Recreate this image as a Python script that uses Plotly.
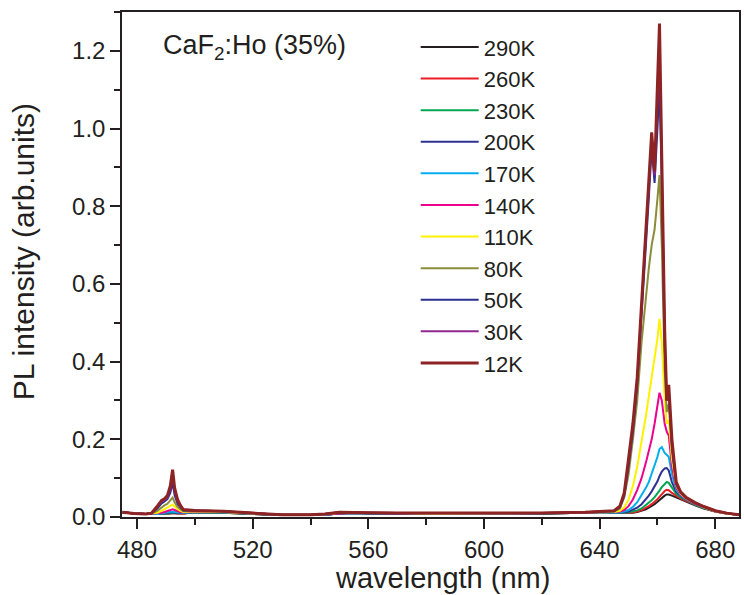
import plotly.graph_objects as go

# wavelength grid (nm)
wavelength = [475, 479, 483, 485, 487, 488.5, 489.5, 490.5, 491.5, 492.3, 493, 494, 495, 496,
              500, 510, 520, 530, 540, 545, 550, 555, 560, 570, 580, 600, 620, 635, 642,
              645, 647, 648.5, 650, 651.5, 653, 654.5, 656, 657, 658, 659, 660, 660.7, 661.5,
              662.5, 663.2, 663.9, 665, 666.5, 668, 670, 673, 676, 680, 684, 689]

temps = ["290K", "260K", "230K", "200K", "170K", "140K", "110K", "80K", "50K", "30K", "12K"]

pl_290K = [0.012, 0.009, 0.008, 0.009, 0.008, 0.008, 0.008, 0.009, 0.009, 0.010, 0.009, 0.009, 0.009, 0.009,
           0.012, 0.011, 0.008, 0.005, 0.005, 0.006, 0.009, 0.010, 0.009, 0.009, 0.008, 0.008, 0.009, 0.011, 0.013,
           0.010, 0.010, 0.010, 0.010, 0.011, 0.013, 0.016, 0.020, 0.024, 0.028, 0.033, 0.039, 0.044, 0.050,
           0.055, 0.058, 0.058, 0.055, 0.050, 0.045, 0.039, 0.030, 0.022, 0.014, 0.009, 0.005]
pl_260K = [0.012, 0.009, 0.008, 0.009, 0.008, 0.008, 0.008, 0.009, 0.010, 0.010, 0.010, 0.009, 0.009, 0.009,
           0.012, 0.011, 0.008, 0.005, 0.005, 0.006, 0.009, 0.010, 0.009, 0.009, 0.008, 0.008, 0.009, 0.011, 0.013,
           0.010, 0.010, 0.010, 0.011, 0.012, 0.014, 0.018, 0.023, 0.028, 0.033, 0.039, 0.046, 0.052, 0.060,
           0.067, 0.070, 0.069, 0.062, 0.054, 0.048, 0.041, 0.031, 0.023, 0.014, 0.009, 0.005]
pl_230K = [0.012, 0.009, 0.008, 0.009, 0.008, 0.008, 0.009, 0.009, 0.010, 0.011, 0.010, 0.010, 0.010, 0.010,
           0.012, 0.011, 0.008, 0.005, 0.005, 0.006, 0.009, 0.010, 0.009, 0.009, 0.008, 0.008, 0.009, 0.011, 0.013,
           0.010, 0.010, 0.011, 0.012, 0.014, 0.017, 0.022, 0.030, 0.036, 0.043, 0.051, 0.060, 0.068, 0.077,
           0.086, 0.090, 0.088, 0.075, 0.060, 0.051, 0.043, 0.032, 0.023, 0.015, 0.009, 0.005]
pl_200K = [0.012, 0.009, 0.008, 0.009, 0.008, 0.009, 0.009, 0.010, 0.012, 0.012, 0.011, 0.011, 0.010, 0.010,
           0.013, 0.012, 0.008, 0.005, 0.005, 0.006, 0.009, 0.010, 0.009, 0.009, 0.009, 0.008, 0.009, 0.011, 0.013,
           0.011, 0.011, 0.012, 0.014, 0.018, 0.024, 0.033, 0.045, 0.055, 0.066, 0.078, 0.092, 0.105, 0.117,
           0.125, 0.126, 0.120, 0.090, 0.065, 0.054, 0.044, 0.033, 0.024, 0.015, 0.009, 0.005]
pl_170K = [0.012, 0.009, 0.008, 0.009, 0.008, 0.009, 0.010, 0.012, 0.014, 0.014, 0.013, 0.012, 0.011, 0.011,
           0.013, 0.012, 0.009, 0.005, 0.005, 0.006, 0.010, 0.010, 0.010, 0.009, 0.009, 0.008, 0.009, 0.011, 0.013,
           0.011, 0.012, 0.014, 0.018, 0.026, 0.038, 0.055, 0.075, 0.090, 0.110, 0.130, 0.155, 0.175, 0.180,
           0.165, 0.160, 0.155, 0.110, 0.070, 0.056, 0.045, 0.033, 0.024, 0.015, 0.009, 0.005]
pl_140K = [0.012, 0.009, 0.008, 0.009, 0.009, 0.011, 0.013, 0.016, 0.019, 0.020, 0.018, 0.015, 0.013, 0.012,
           0.014, 0.013, 0.009, 0.006, 0.005, 0.007, 0.010, 0.011, 0.010, 0.009, 0.009, 0.009, 0.010, 0.011, 0.014,
           0.012, 0.014, 0.018, 0.028, 0.045, 0.070, 0.100, 0.140, 0.170, 0.200, 0.240, 0.290, 0.320, 0.300,
           0.240, 0.220, 0.210, 0.130, 0.075, 0.058, 0.046, 0.034, 0.025, 0.015, 0.009, 0.005]
pl_110K = [0.012, 0.009, 0.008, 0.009, 0.011, 0.016, 0.020, 0.024, 0.029, 0.032, 0.027, 0.020, 0.016, 0.013,
           0.015, 0.013, 0.009, 0.006, 0.006, 0.007, 0.011, 0.011, 0.010, 0.010, 0.009, 0.009, 0.010, 0.012, 0.014,
           0.013, 0.016, 0.025, 0.045, 0.080, 0.130, 0.190, 0.260, 0.310, 0.360, 0.410, 0.460, 0.510, 0.450,
           0.300, 0.240, 0.250, 0.150, 0.080, 0.060, 0.047, 0.035, 0.025, 0.015, 0.009, 0.005]
pl_80K = [0.012, 0.009, 0.008, 0.009, 0.016, 0.025, 0.030, 0.034, 0.042, 0.050, 0.038, 0.026, 0.020, 0.015,
          0.016, 0.014, 0.010, 0.006, 0.006, 0.008, 0.012, 0.012, 0.011, 0.010, 0.010, 0.009, 0.010, 0.012, 0.015,
          0.014, 0.022, 0.050, 0.110, 0.200, 0.300, 0.450, 0.570, 0.640, 0.700, 0.740, 0.820, 0.880, 0.700,
          0.380, 0.270, 0.290, 0.170, 0.080, 0.062, 0.048, 0.035, 0.026, 0.016, 0.010, 0.005]
pl_50K = [0.012, 0.009, 0.008, 0.009, 0.022, 0.035, 0.040, 0.046, 0.062, 0.088, 0.056, 0.035, 0.025, 0.017,
          0.017, 0.015, 0.010, 0.006, 0.006, 0.008, 0.012, 0.012, 0.011, 0.010, 0.010, 0.009, 0.010, 0.012, 0.015,
          0.015, 0.025, 0.055, 0.130, 0.220, 0.340, 0.510, 0.700, 0.820, 0.950, 0.860, 1.000, 1.110, 0.860,
          0.440, 0.300, 0.320, 0.180, 0.085, 0.063, 0.049, 0.036, 0.026, 0.016, 0.010, 0.005]
pl_30K = [0.012, 0.009, 0.008, 0.009, 0.026, 0.040, 0.044, 0.050, 0.072, 0.105, 0.066, 0.040, 0.027, 0.018,
          0.017, 0.015, 0.010, 0.006, 0.006, 0.008, 0.012, 0.012, 0.011, 0.010, 0.010, 0.009, 0.010, 0.012, 0.015,
          0.016, 0.027, 0.058, 0.140, 0.230, 0.350, 0.525, 0.730, 0.850, 0.975, 0.880, 1.100, 1.210, 0.900,
          0.460, 0.300, 0.330, 0.190, 0.085, 0.064, 0.050, 0.037, 0.027, 0.016, 0.010, 0.005]
pl_12K = [0.012, 0.009, 0.008, 0.010, 0.028, 0.043, 0.047, 0.055, 0.080, 0.122, 0.075, 0.045, 0.030, 0.019,
          0.017, 0.015, 0.010, 0.006, 0.006, 0.008, 0.012, 0.012, 0.011, 0.010, 0.010, 0.009, 0.010, 0.012, 0.016,
          0.016, 0.028, 0.062, 0.150, 0.240, 0.360, 0.540, 0.750, 0.870, 0.990, 0.890, 1.150, 1.270, 0.920,
          0.480, 0.300, 0.340, 0.200, 0.090, 0.065, 0.050, 0.037, 0.027, 0.016, 0.010, 0.005]

series = [pl_290K, pl_260K, pl_230K, pl_200K, pl_170K, pl_140K, pl_110K, pl_80K, pl_50K, pl_30K, pl_12K]
colors = ["#231f20", "#ed1c24", "#00a651", "#2e3192", "#00aeef", "#ec008c",
          "#fff200", "#8b8c3a", "#2b3090", "#92278f", "#8e2324"]
widths = [2, 2, 2, 2, 2, 2, 2, 2, 2, 2, 3]

FONT = "Liberation Sans, Arial, Helvetica, sans-serif"
INK = "#231f20"

fig = go.Figure()
for name, ys, c, w in zip(temps, series, colors, widths):
    fig.add_trace(go.Scatter(x=wavelength, y=ys, mode="lines", name=name,
                             line=dict(color=c, width=w)))

axis_common = dict(showline=True, linecolor=INK, linewidth=1.5, mirror=True,
                   ticks="outside", ticklen=10, tickwidth=1.5, tickcolor=INK,
                   showgrid=False, zeroline=False,
                   tickfont=dict(family=FONT, size=24, color=INK))

fig.update_layout(
    width=744, height=595,
    margin=dict(l=122, r=3, t=12, b=78),
    paper_bgcolor="white", plot_bgcolor="white",
    font=dict(family=FONT, color=INK),
    xaxis=dict(range=[474.8, 688.2], tick0=480, dtick=40,
               minor=dict(ticks="outside", ticklen=6, tickwidth=1.5, tickcolor=INK, dtick=20, tick0=480),
               **axis_common),
    yaxis=dict(range=[0, 1.3], tick0=0, dtick=0.2, tickformat=".1f",
               minor=dict(ticks="outside", ticklen=6, tickwidth=1.5, tickcolor=INK, dtick=0.1, tick0=0),
               **axis_common),
    legend=dict(x=0.476, y=0.972, xanchor="left", yanchor="top",
                font=dict(family=FONT, size=22, color=INK), itemwidth=58,
                bgcolor="rgba(0,0,0,0)", tracegroupgap=0),
    showlegend=True,
)

# axis titles placed as annotations (paper coords; plot area spans x 122..741, y 12..517 px)
fig.add_annotation(text="wavelength (nm)", xref="paper", yref="paper",
                   x=(444 - 122) / 619, y=-(578 - 517) / 505, xanchor="center", yanchor="middle",
                   showarrow=False, font=dict(family=FONT, size=29, color=INK))
fig.add_annotation(text="PL intensity (arb.units)", xref="paper", yref="paper",
                   x=-(122 - 23) / 619, y=(517 - 252) / 505, xanchor="center", yanchor="middle",
                   textangle=-90, showarrow=False, font=dict(family=FONT, size=30, color=INK))

fig.add_annotation(text="CaF<sub>2</sub>:Ho (35%)", xref="paper", yref="paper",
                   x=0.064, y=0.93, xanchor="left", yanchor="middle", showarrow=False,
                   font=dict(family=FONT, size=27, color=INK))

fig.write_html("out.html")
